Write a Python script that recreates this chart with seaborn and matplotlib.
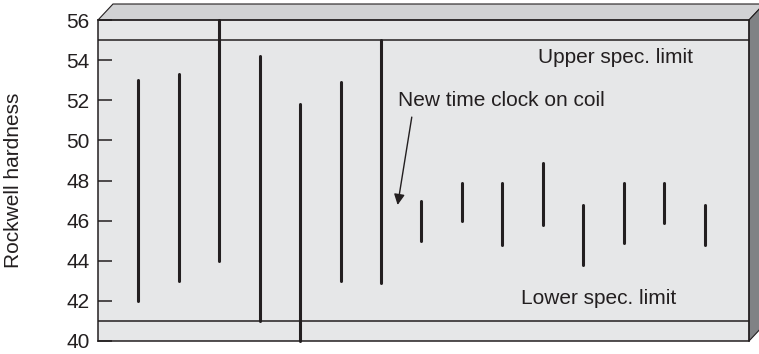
import matplotlib
matplotlib.use("Agg")
import matplotlib.pyplot as plt
from matplotlib.patches import Polygon
import pandas as pd
import seaborn as sns

# range of hardness readings for each sample
samples = list(range(1, 16))
low_vals = [42, 43, 44, 41, 40, 43, 42.9, 45, 46, 44.8, 45.8, 43.8, 44.9, 45.9, 44.8]
high_vals = [53, 53.3, 56, 54.2, 51.8, 52.9, 55, 47, 47.9, 47.9, 48.85, 46.8, 47.9, 47.9, 46.8]
upper_spec = 55
lower_spec = 41
y_ticks = [40, 42, 44, 46, 48, 50, 52, 54, 56]

sns.set_theme(style="ticks")
plt.rcParams['font.family'] = ['Liberation Sans', 'DejaVu Sans']

ink = '#231f20'
front = '#e6e7e8'
top_face = '#d1d2d4'
side_face = '#808285'

df = pd.DataFrame({
    'sample': samples * 2,
    'hardness': low_vals + high_vals,
})

fig = plt.figure(figsize=(7.59, 3.54), dpi=100)
ax = fig.add_axes([98 / 759, 1 - 341 / 354, 651 / 759, 321 / 354])
ax.set_facecolor(front)

# each sample's range as a vertical line
sns.lineplot(data=df, x='sample', y='hardness', units='sample', estimator=None,
             color=ink, lw=2.2, ax=ax, clip_on=False)

ax.axhline(upper_spec, color=ink, lw=1.1)
ax.axhline(lower_spec, color=ink, lw=1.1)

ax.set_xlim(0, 16.1)
ax.set_ylim(40, 56)
ax.set_yticks(y_ticks)
ax.set_xticks([])
ax.set_xlabel('')
ax.tick_params(axis='y', direction='in', length=10, width=1.1, color=ink,
               labelsize=15, labelcolor=ink, pad=6)
ax.set_ylabel('Rockwell hardness', fontsize=15, color=ink)
ax.yaxis.set_label_coords(-0.115, 0.5)
for s in ax.spines.values():
    s.set_visible(True)
    s.set_color(ink)
    s.set_linewidth(1.1)

# pseudo-3D box faces
dx, dy = 15 / 651, 16 / 321
top_poly = Polygon([(0, 1), (1, 1), (1 + dx, 1 + dy), (dx, 1 + dy)], closed=True,
                   transform=ax.transAxes, clip_on=False, facecolor=top_face,
                   edgecolor=ink, lw=0.8, zorder=0)
side_poly = Polygon([(1, 1), (1 + dx, 1 + dy), (1 + dx, dy), (1, 0)], closed=True,
                    transform=ax.transAxes, clip_on=False, facecolor=side_face,
                    edgecolor=ink, lw=0.8, zorder=0)
ax.add_patch(top_poly)
ax.add_patch(side_poly)

ax.text(10.87, 54.15, 'Upper spec. limit', fontsize=15, color=ink, ha='left', va='center')
ax.text(10.45, 42.14, 'Lower spec. limit', fontsize=15, color=ink, ha='left', va='center')
ax.text(7.43, 52.0, 'New time clock on coil', fontsize=15, color=ink, ha='left', va='center')
ax.annotate('', xy=(7.41, 46.78), xytext=(7.76, 51.16),
            arrowprops=dict(arrowstyle='-|>', lw=1.0, color=ink, mutation_scale=16,
                            shrinkA=0, shrinkB=0))

fig.savefig('out.png', dpi=100)
